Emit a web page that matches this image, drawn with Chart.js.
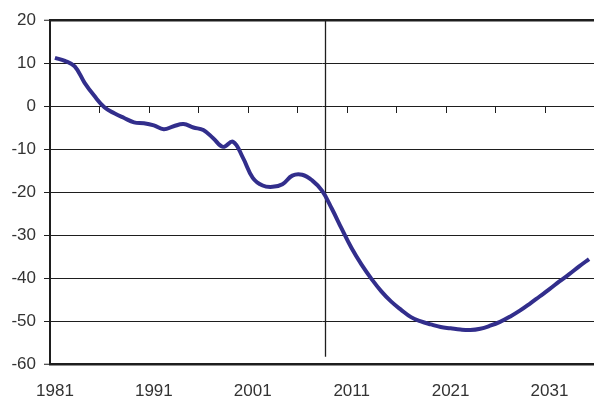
<!DOCTYPE html>
<html>
<head>
<meta charset="utf-8">
<script src="https://cdn.jsdelivr.net/npm/chart.js@4/dist/chart.umd.min.js"></script>
<style>
  html, body { margin: 0; padding: 0; background: #fff; }
  #wrap { width: 594px; height: 405px; position: relative; }
</style>
</head>
<body>
<div id="wrap"><canvas id="chart"></canvas></div>
<script>
const years = [
  1981, 1982, 1983, 1984, 1985, 1986, 1987, 1988, 1989, 1990,
  1991, 1992, 1993, 1994, 1995, 1996, 1997, 1998, 1999, 2000,
  2001, 2002, 2003, 2004, 2005, 2006, 2007, 2008, 2009, 2010,
  2011, 2012, 2013, 2014, 2015, 2016, 2017, 2018, 2019, 2020,
  2021, 2022, 2023, 2024, 2025, 2026, 2027, 2028, 2029, 2030,
  2031, 2032, 2033, 2034, 2035,
];
const values = [
  11.2, 10.5, 9.2, 5.4, 2.3, -0.3, -1.7, -2.8, -3.8, -4.0,
  -4.5, -5.4, -4.7, -4.2, -5.0, -5.6, -7.5, -9.5, -8.3, -12.0,
  -16.7, -18.5, -18.8, -18.2, -16.2, -16.0, -17.3, -19.7, -23.9, -28.6,
  -33.1, -36.9, -40.2, -43.1, -45.5, -47.4, -49.1, -50.1, -50.8, -51.4,
  -51.7, -52.0, -52.1, -51.8, -51.1, -50.2, -49.0, -47.6, -46.0, -44.3,
  -42.6, -40.8, -39.1, -37.3, -35.6,
];
const xLabels = [1981, 1991, 2001, 2011, 2021, 2031];
const xTickMarks = [1985.5, 1990.5, 1995.5, 2000.5, 2005.5, 2010.5, 2015.5, 2020.5, 2025.5, 2030.5];
const yTicks = [20, 10, 0, -10, -20, -30, -40, -50, -60];
const dividerYear = 2008.3;

const axisColor = "#1e1e1e";
const textColor = "#333333";

// tick marks on the zero line plus the vertical divider
const overlay = {
  id: "overlay",
  beforeDatasetsDraw(chart) {
    const { ctx, chartArea, scales } = chart;
    const x = scales.x, y = scales.y;
    const y0 = y.getPixelForValue(0);
    ctx.save();
    ctx.strokeStyle = axisColor;
    ctx.lineWidth = 1;
    for (const t of xTickMarks) {
      const px = Math.round(x.getPixelForValue(t)) + 0.5;
      ctx.beginPath();
      ctx.moveTo(px, y0);
      ctx.lineTo(px, y0 + 7);
      ctx.stroke();
    }
    const dx = Math.round(x.getPixelForValue(dividerYear)) + 0.5;
    ctx.lineWidth = 1.3;
    ctx.beginPath();
    ctx.moveTo(dx, chartArea.top + 1);
    ctx.lineTo(dx, y.getPixelForValue(-58.3));
    ctx.stroke();
    ctx.restore();
  },
};

new Chart(document.getElementById("chart"), {
  type: "line",
  data: {
    datasets: [
      {
        data: years.map((yr, i) => ({ x: yr, y: values[i] })),
        borderColor: "#322e8c",
        borderWidth: 4,
        pointRadius: 0,
        tension: 0.4,
        fill: false,
      },
    ],
  },
  options: {
    responsive: true,
    maintainAspectRatio: false,
    animation: false,
    layout: { padding: { top: 20, right: 0, left: 0, bottom: 0 } },
    plugins: { legend: { display: false }, tooltip: { enabled: false } },
    scales: {
      x: {
        type: "linear",
        min: 1980.5,
        max: 2035.5,
        afterBuildTicks: (s) => { s.ticks = xLabels.map((v) => ({ value: v })); },
        afterFit: (s) => { s.height = 41; },
        grid: { display: false, drawTicks: false },
        border: { display: false },
        ticks: {
          autoSkip: false,
          maxRotation: 0,
          padding: 17,
          color: textColor,
          font: { family: "Liberation Sans, Arial, sans-serif", size: 17 },
          callback: (v) => String(v),
        },
      },
      y: {
        min: -60,
        max: 20,
        afterBuildTicks: (s) => { s.ticks = yTicks.map((v) => ({ value: v })); },
        afterFit: (s) => { s.width = 50; },
        grid: {
          color: axisColor,
          lineWidth: (c) => (c.tick && (c.tick.value === 20 || c.tick.value === -60) ? 2.5 : 1),
          tickLength: 6,
          tickColor: axisColor,
          tickWidth: 1,
        },
        border: { display: true, color: axisColor, width: 2 },
        ticks: {
          padding: 8,
          color: textColor,
          font: { family: "Liberation Sans, Arial, sans-serif", size: 17 },
        },
      },
    },
  },
  plugins: [overlay],
});
</script>
</body>
</html>
